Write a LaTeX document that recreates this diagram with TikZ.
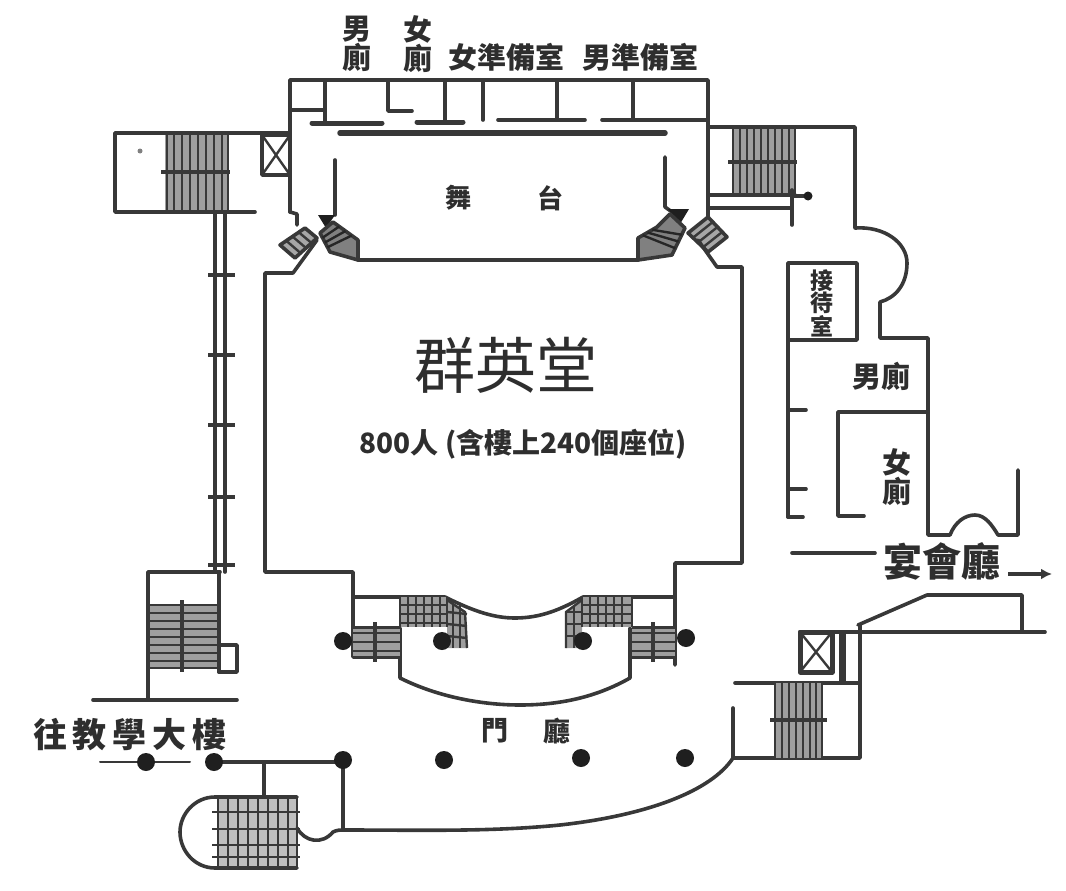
\documentclass[tikz,border=0pt]{standalone}
\usepackage{fontspec}
\newfontfamily\cjk{Noto Sans CJK TC}
\usetikzlibrary{arrows.meta,calc}
\definecolor{wallc}{HTML}{383838}
\tikzset{
 wall/.style={draw=wallc,line width=3.6pt,line join=round,line cap=round},
 tread/.style={draw=wallc,line width=2.4pt},
 rail/.style={draw=wallc,line width=3.2pt},
 stairbg/.style={fill=black!38,draw=none},
 col/.style={circle,fill=black!88,draw=none,minimum size=18pt,inner sep=0pt},
 lab/.style={inner sep=0pt,text=black!82,align=center},
}
\newcommand{\lab}[1]{\fontsize{#1}{#1}\selectfont\cjk\bfseries}
\begin{document}
\begin{tikzpicture}[x=1pt,y=-1pt]
\useasboundingbox (0,0) rectangle (1066,891);
% ---------- top rooms
\draw[wall] (290,212) -- (290,80) -- (708,80) -- (708,217);
\draw[wall] (290,110) -- (325,110);
\draw[wall] (325,80) -- (325,122);
\draw[wall,line width=5pt] (312,123) -- (382,123);
\draw[wall] (388,80) -- (388,111) -- (412,111);
\draw[wall] (445,80) -- (445,122);
\draw[wall,line width=5pt] (417,122) -- (463,122);
\draw[wall] (483,80) -- (483,120);
\draw[wall] (557,80) -- (557,120);
\draw[wall] (633,80) -- (633,120);
\draw[wall] (498,120) -- (585,120);
\draw[wall] (602,120) -- (708,120);
\draw[wall,line width=5.5pt] (340,133) -- (665,133);
% ---------- stage
\draw[wall] (335,160) -- (335,215);
\draw[wall] (665,157) -- (665,207) -- (672,212);
\fill[black!88] (318,215) -- (335,215) -- (326,228) -- cycle;
\fill[black!88] (668,209) -- (689,209) -- (680,224) -- cycle;
\draw[wall] (358,260) -- (638,260);
% diagonal stage stairs
\draw[wall,fill=black!50] (320,233) -- (333,222) -- (358,240) -- (358,260) -- (330,252) -- cycle;
\draw[wall,fill=black!50] (638,260) -- (638,238) -- (657,227) -- (670,214) -- (685,228) -- (672,255) -- cycle;
\foreach \t in {0.25,0.5,0.75}{
 \draw[tread,draw=black!85] ($(320,233)!\t!(330,252)$) -- ($(333,222)!\t!(358,240)$);
 \draw[tread,draw=black!85] ($(657,227)!\t!(638,238)$) -- ($(685,228)!\t!(672,255)$);
}
\draw[wall,fill=black!35] (280,245) -- (305,228) -- (317,238) -- (295,258) -- cycle;
\draw[wall,fill=black!35] (688,233) -- (708,217) -- (727,237) -- (708,252) -- cycle;
\foreach \t in {0.25,0.5,0.75}{
 \draw[tread] ($(280,245)!\t!(305,228)$) -- ($(295,258)!\t!(317,238)$);
 \draw[tread] ($(688,233)!\t!(708,252)$) -- ($(708,217)!\t!(727,237)$);
}
\draw[wall] (290,212) -- (297,214) -- (297,225);
% ---------- main hall
\draw[wall] (317,240) -- (293,273) -- (265,273) -- (265,572) -- (353,572) -- (353,657) -- (400,657);
\draw[wall] (698,240) -- (717,267) -- (742,267) -- (742,563) -- (675,563) -- (675,665);
\draw[wall] (353,597) -- (445,597) .. controls (475,612) and (495,618) .. (515,618) .. controls (540,618) and (560,610) .. (583,597) -- (675,597);
% inner lobby
\draw[wall] (400,628) -- (400,678) .. controls (440,698) and (485,705) .. (520,705) .. controls (565,705) and (600,695) .. (630,678) -- (630,628);
% lobby stairs
\fill[stairbg] (400,597) rectangle (447,627);
\fill[stairbg] (353,627) rectangle (400,657);
\fill[stairbg] (582,597) rectangle (632,627);
\fill[stairbg] (632,627) rectangle (675,657);
\fill[stairbg] (447,600) -- (465,612) -- (467,648) -- (447,648) -- cycle;
\fill[stairbg] (582,600) -- (566,612) -- (566,648) -- (582,648) -- cycle;
\foreach \y in {605,614,623}{\draw[tread] (400,\y) -- (447,\y);}
\foreach \x in {400,408,416,424,432,440,447}{\draw[tread] (\x,597) -- (\x,627);}
\foreach \y in {633,642,651}{\draw[tread] (353,\y) -- (400,\y);}
\draw[rail] (375,622) -- (375,662);
\draw[tread,line width=3pt] (353,627) -- (400,627) (353,657) -- (400,657);
\draw[tread] (447,600) -- (465,612) -- (467,648);
\foreach \y in {612,624,636}{\draw[tread] (447,\y) -- (467,\y+2);}
\foreach \x in {453,460}{\draw[tread] (\x,604) -- (\x,648);}
\foreach \y in {605,614,623}{\draw[tread] (582,\y) -- (632,\y);}
\foreach \x in {582,590,598,606,614,622,632}{\draw[tread] (\x,597) -- (\x,627);}
\foreach \y in {633,642,651}{\draw[tread] (632,\y) -- (675,\y);}
\draw[rail] (653,622) -- (653,662);
\draw[tread,line width=3pt] (632,627) -- (675,627) (632,657) -- (675,657);
\draw[tread] (582,600) -- (566,612) -- (566,648);
\foreach \y in {612,624,636}{\draw[tread] (566,\y) -- (582,\y);}
\draw[tread] (574,606) -- (574,648);
% ---------- left upper stair
\fill[stairbg] (165,133) rectangle (228,212);
\draw[wall] (290,133) -- (115,133) -- (115,212) -- (255,212);
\foreach \x in {167,174,182,190,198,206,214,222,228}{\draw[tread] (\x,133) -- (\x,212);}
\draw[rail] (161,172) -- (230,172);
\fill[black!50] (140,151) circle (2.5pt);
\draw[wall] (262,135) rectangle (290,175);
\draw[wall,line width=2.4pt] (262,135) -- (290,175) (290,135) -- (262,175);
% ---------- corridor
\draw[wall] (215,212) -- (215,572);
\draw[wall] (225,212) -- (225,572);
\foreach \y in {275,355,425,497,565}{\draw[rail,line width=4.5pt] (208,\y) -- (235,\y);}
% ---------- left lower stair
\fill[stairbg] (148,605) rectangle (219,668);
\draw[wall] (220,572) -- (148,572) -- (148,700);
\draw[wall] (219,572) -- (219,672);
\draw[wall] (219,645) -- (237,645) -- (237,672) -- (219,672);
\foreach \y in {605,613,621,629,637,645,653,661,668}{\draw[tread] (148,\y) -- (219,\y);}
\draw[rail] (182,600) -- (182,672);
\draw[wall] (93,700) -- (237,700);
% ---------- right upper stair
\fill[stairbg] (733,127) rectangle (795,195);
\draw[wall] (708,127) -- (855,127) -- (855,228) .. controls (885,226) and (907,243) .. (907,263) .. controls (907,285) and (895,298) .. (880,302) -- (880,338) -- (928,338) -- (928,535) -- (950,535) .. controls (955,522) and (965,515) .. (975,515) .. controls (985,515) and (992,525) .. (998,535) -- (1018,535) -- (1018,470);
\foreach \x in {733,740,747,754,761,768,775,782,789,795}{\draw[tread] (\x,127) -- (\x,195);}
\draw[rail] (728,162) -- (797,162);
\draw[wall] (708,195) -- (795,195);
\draw[wall] (708,208) -- (790,208);
\draw[wall] (792,190) -- (792,225);
\draw[wall] (792,196) -- (806,196);
\fill[black!88] (808,196) circle (4.5pt);
% ---------- right rooms
\draw[wall] (788,517) -- (788,263) -- (857,263) -- (857,340) -- (788,340);
\draw[wall] (788,410) -- (806,410);
\draw[wall] (788,489) -- (806,489);
\draw[wall] (788,517) -- (803,517);
\draw[wall] (928,412) -- (838,412) -- (838,516) -- (864,516);
% ---------- banquet passage
\draw[wall] (792,553) -- (875,553);
\draw[wall] (858,625) -- (927,595) -- (1022,595) -- (1022,632);
\draw[wall] (800,632) -- (1045,632);
\draw[wall,line width=5pt] (800,632) rectangle (832,672);
\draw[wall,line width=2.4pt] (800,632) -- (832,672) (832,632) -- (800,672);
\draw[wall,line width=7pt,line cap=butt] (842,632) -- (842,682);
\draw[wall] (860,625) -- (860,758) -- (733,758) -- (733,708);
\draw[wall] (735,683) -- (860,683);
\fill[stairbg] (775,683) rectangle (822,758);
\foreach \x in {775,782,789,796,803,810,816,822}{\draw[tread] (\x,683) -- (\x,758);}
\draw[rail] (770,720) -- (827,720);
% ---------- lobby outer
\draw[wall] (733,758) .. controls (712,790) and (650,815) .. (560,825) .. controls (490,832) and (420,830) .. (343,830);
\draw[wall] (214,762) -- (343,762) -- (343,830);
\draw[wall,line width=2pt] (100,762) -- (190,762);
\draw[wall] (264,762) -- (264,797);
% bottom stair
\fill[stairbg,fill=black!25] (218,797) rectangle (297,868);
\draw[wall] (297,797) -- (215,797) .. controls (195,797) and (180,814) .. (180,832) .. controls (180,851) and (195,868) .. (215,868) -- (297,868);
\foreach \x in {218,228,238,248,258,268,278,288,297}{\draw[tread] (\x,797) -- (\x,868);}
\foreach \y in {812,829,845,857}{\draw[tread] (212,\y) -- (300,\y);}
\draw[wall] (297,828) .. controls (305,842) and (322,845) .. (333,832) .. controls (337,830) and (340,830) .. (343,830);
% ---------- columns
\node[col] (c1) at (343,641) {};
\node[col] (c2) at (442,641) {};
\node[col] (c3) at (583,641) {};
\node[col] (c4) at (686,638) {};
\node[col] (c5) at (343,760) {};
\node[col] (c6) at (444,760) {};
\node[col] (c7) at (581,758) {};
\node[col] (c8) at (685,758) {};
\node[col] (c9) at (146,762) {};
\node[col] (c10) at (214,762) {};
% ---------- labels
\node[lab] (t1) at (357,44) {\lab{29}男\\\lab{29}廁};
\node[lab] (t2) at (418,44) {\lab{29}女\\\lab{29}廁};
\node[lab] (t3) at (506,57) {\lab{29}女準備室};
\node[lab] (t4) at (640,57) {\lab{29}男準備室};
\node[lab] (t5) at (458,198) {\lab{26}舞};
\node[lab] (t6) at (550,198) {\lab{26}台};
\node[lab] (t7) at (506,365) {\fontsize{61}{61}\selectfont\cjk 群英堂};
\node[lab] (t8) at (523,444) {\lab{28}800人 (含樓上240個座位)};
\node[lab] (t9) at (822,303) {\lab{23}接\\\lab{23}待\\\lab{23}室};
\node[lab] (t10) at (881,376) {\lab{29}男廁};
\node[lab] (t11) at (897,477) {\lab{29}女\\\lab{29}廁};
\node[lab] (t12) at (942,561) {\lab{39}宴會廳};
\node[lab] (t13) at (495,731) {\lab{27}門};
\node[lab] (t14) at (557,731) {\lab{27}廳};
\node[lab] (t15) at (130,735) {\lab{34}往\hspace{6pt}教\hspace{6pt}學\hspace{6pt}大\hspace{6pt}樓};
% arrow
\coordinate (a1) at (1008,574);
\coordinate (a2) at (1052,574);
\draw[wall,-{Latex[length=11pt,width=11pt]},line cap=butt] (a1) -- (a2);
\end{tikzpicture}
\end{document}
